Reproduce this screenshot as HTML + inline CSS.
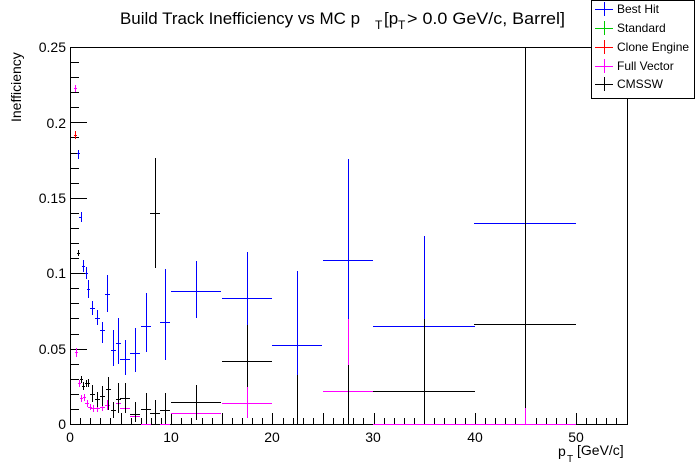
<!DOCTYPE html>
<html><head><style>
body{margin:0;background:#fff;}
svg{display:block;font-family:"Liberation Sans",sans-serif;}
</style></head><body>
<svg width="696" height="472" viewBox="0 0 696 472" xmlns="http://www.w3.org/2000/svg">
<rect width="696" height="472" fill="#fff"/>
<text x="120" y="24" font-size="17" textLength="240" lengthAdjust="spacingAndGlyphs">Build Track Inefficiency vs MC p</text>
<text x="375" y="29" font-size="12">T</text>
<text x="384" y="24" font-size="17">[p</text>
<text x="398" y="29" font-size="12">T</text>
<text x="407" y="24" font-size="17" textLength="158" lengthAdjust="spacingAndGlyphs">&gt; 0.0 GeV/c, Barrel]</text>
<rect x="70.5" y="47.5" width="557" height="377" fill="none" stroke="#000" shape-rendering="crispEdges"/>
<g stroke="#000" id="ticks" shape-rendering="crispEdges"></g>
<g font-size="14" text-anchor="end">
<text x="66" y="52">0.25</text><text x="66" y="128">0.2</text><text x="66" y="203">0.15</text>
<text x="66" y="278">0.1</text><text x="66" y="354">0.05</text><text x="66" y="429">0</text>
</g>
<g font-size="14" text-anchor="middle">
<text x="70" y="442">0</text><text x="171" y="442">10</text><text x="272" y="442">20</text>
<text x="373" y="442">30</text><text x="475" y="442">40</text><text x="576" y="442">50</text>
</g>
<text x="558" y="456" font-size="14">p</text><text x="567" y="462" font-size="10">T</text><text x="577" y="455" font-size="14">[GeV/c]</text>
<text transform="translate(21,122) rotate(-90)" font-size="14" text-anchor="start">Inefficiency</text>
<g id="data" shape-rendering="crispEdges"></g>
<rect x="591.5" y="0.5" width="103" height="98" fill="#fff" stroke="#000" shape-rendering="crispEdges"/>
<g font-size="12" shape-rendering="crispEdges">
<line x1="595" x2="613" y1="9.5" y2="9.5" stroke="#00f"/><line x1="604.5" x2="604.5" y1="2" y2="16" stroke="#00f"/><text x="617" y="13">Best Hit</text>
<line x1="595" x2="613" y1="28.5" y2="28.5" stroke="#0c0"/><line x1="604.5" x2="604.5" y1="21" y2="35" stroke="#0c0"/><text x="617" y="32">Standard</text>
<line x1="595" x2="613" y1="47.5" y2="47.5" stroke="#f00"/><line x1="604.5" x2="604.5" y1="40" y2="54" stroke="#f00"/><text x="617" y="51">Clone Engine</text>
<line x1="595" x2="613" y1="66.5" y2="66.5" stroke="#f0f"/><line x1="604.5" x2="604.5" y1="59" y2="73" stroke="#f0f"/><text x="617" y="70">Full Vector</text>
<line x1="595" x2="613" y1="84.5" y2="84.5" stroke="#000"/><line x1="604.5" x2="604.5" y1="77" y2="91" stroke="#000"/><text x="617" y="88">CMSSW</text>
</g>
<script>
var NS="http://www.w3.org/2000/svg";
function r(v){return Math.round(v)+0.5;}
function ln(g,x1,y1,x2,y2,c){var l=document.createElementNS(NS,"line");
if(y1==y2){y1=y2=r(y1);x1=Math.round(x1);x2=Math.round(x2);}else{x1=x2=r(x1);y1=Math.round(y1);y2=Math.round(y2);}
l.setAttribute("x1",x1);l.setAttribute("y1",y1);l.setAttribute("x2",x2);l.setAttribute("y2",y2);l.setAttribute("stroke",c);l.setAttribute("stroke-width","1");g.appendChild(l);}
var t=document.getElementById("ticks");
for(var i=0;i<=25;i++){var y=424-i*15.08;var L=(i%5==0)?17:9;ln(t,70,y,70+L,y,"#000");}
for(var i=0;i<=55;i++){var x=70+i*10.12;var L=(i%5==0)?11:6;ln(t,x,424,x,424-L,"#000");}
var d=document.getElementById("data");
function P(c,x,y,hw,t,b){if(hw>0)ln(d,x-hw,y,x+hw,y,c);if(b>t)ln(d,x,t,x,b,c);}
var B="#00f",K="#000",M="#f0f",R="#f00";
[[78,153,1.5,150,159],[80.5,217,1.5,212,222],[83,266,1.5,260,272],[86,273,1.5,267,279],[88,289,1.5,280,298],[92,308,2.5,301,315],[97,318,2.5,310,325],[102,330,2.5,322,343],[107,294,2.5,275,312],[113,350,2.5,330,366],[118,343,2.5,318,364],[125,359,5,340,375],[135,353,5,328,372],[146,326,5,293,352],[155,213,5,158,260],[165,322,5,269,360],
[196,291,25,261,318],[247,298,25,252,325],[297,345,25,271,375],[348,260,25,159,319],[424,326,51,236,319],[525,223,51,223,223]].forEach(function(p){P(B,p[0],p[1],p[2],p[3],p[4]);});
[[75,88,1.5,85,92],[76,352,1.5,348,357],[79,383,1.5,380,387],[81,398,1.5,395,402],[84,397,1.5,394,401],[87,403,2,400,407],[90,407,2,404,410],[93,408,2.5,405,412],[97,408,2.5,404,412],[102,407,2.5,403,411],[107,405,2.5,400,410],[118,403,2.5,398,408],[125,408,5,403,413],[135,416,5,416,416],[146,424,5,424,424],[165,424,5,424,424],
[196,413,25,407,420],[247,403,25,387,418],[348,391,25,319,424],[424,424,51,410,424],[525,424,51,408,424]].forEach(function(p){P(M,p[0],p[1],p[2],p[3],p[4]);});
P(R,75,135,1.5,131,139);
[[78,253,1.5,250,256],[81,379,1.5,376,383],[83,386,1.5,382,390],[86,383,1.5,380,387],[88,383,1.5,379,387],[92,394,2.5,385,402],[97,399,2.5,392,407],[102,396,2.5,386,406],[108,389,2.5,377,410],[113,410,2.5,402,418],[118,399,2.5,383,413],[125,398,5,383,413],[135,414,5,402,422],[146,409,5,393,424],[155,213,5,158,268],[155,413,5,400,424],[165,410,5,393,424],
[196,402,25,385,420],[247,361,25,325,387],[297,345,0,375,424],[348,391,0,365,424],[424,391,51,319,424],[525,324,51,47,408]].forEach(function(p){P(K,p[0],p[1],p[2],p[3],p[4]);});
</script>
</svg>
</body></html>
